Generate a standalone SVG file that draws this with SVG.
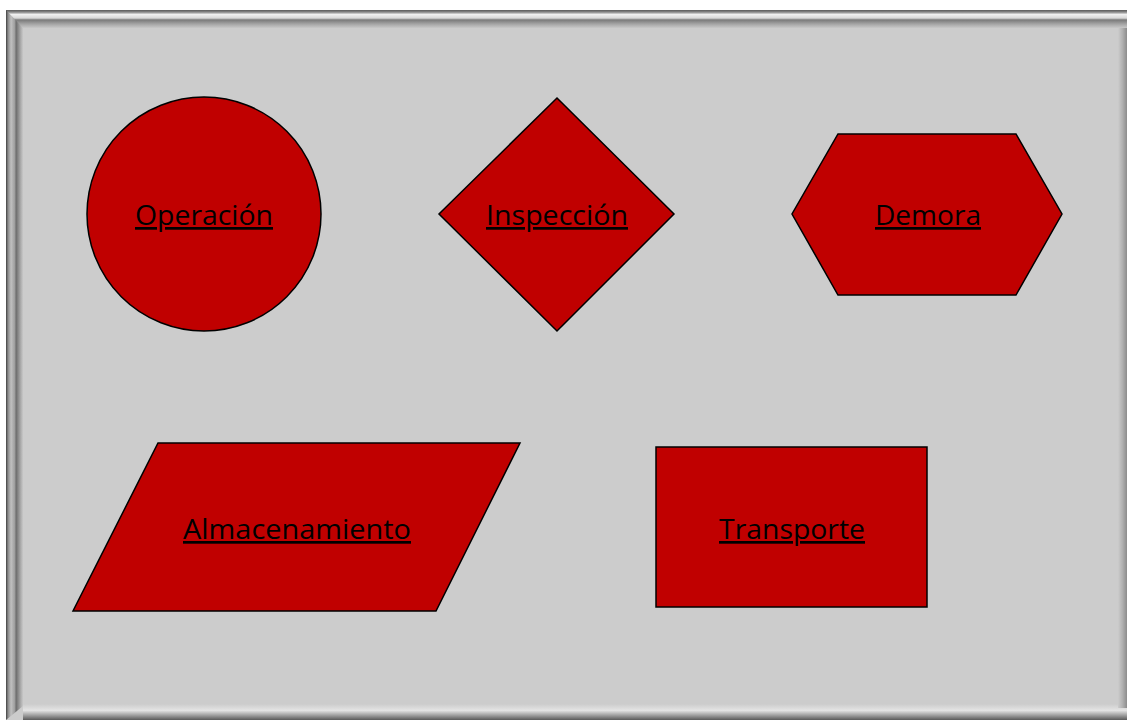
<svg xmlns="http://www.w3.org/2000/svg" width="1127" height="722" viewBox="0 0 1127 722">
  <defs>
    <style>
      .shape { fill: #C00000; stroke: #000000; stroke-width: 1.5; }
      .label { font-family: "Open Sans", "Noto Sans", sans-serif; font-size: 27px; fill: #000000; text-anchor: middle; text-decoration: underline; }
    </style>
    <linearGradient id="bevelTop" x1="0" y1="0" x2="0" y2="1">
      <stop offset="0" stop-color="#5a5a5a"/>
      <stop offset="0.12" stop-color="#8a8a8a"/>
      <stop offset="0.25" stop-color="#f0f0f0"/>
      <stop offset="0.45" stop-color="#d8d8d8"/>
      <stop offset="0.55" stop-color="#7a7a7a"/>
      <stop offset="0.8" stop-color="#a8a8a8"/>
      <stop offset="1" stop-color="#c8c8c8"/>
    </linearGradient>
    <linearGradient id="bevelLeft" x1="0" y1="0" x2="1" y2="0">
      <stop offset="0" stop-color="#404040"/>
      <stop offset="0.12" stop-color="#8a8a8a"/>
      <stop offset="0.3" stop-color="#c0c0c0"/>
      <stop offset="0.5" stop-color="#a0a0a0"/>
      <stop offset="0.6" stop-color="#6e6e6e"/>
      <stop offset="0.85" stop-color="#a8a8a8"/>
      <stop offset="1" stop-color="#c8c8c8"/>
    </linearGradient>
    <linearGradient id="bevelBottom" x1="0" y1="0" x2="0" y2="1">
      <stop offset="0" stop-color="#cccccc"/>
      <stop offset="0.4" stop-color="#e4e4e4"/>
      <stop offset="0.7" stop-color="#a0a0a0"/>
      <stop offset="1" stop-color="#5a5a5a"/>
    </linearGradient>
    <linearGradient id="bevelRight" x1="0" y1="0" x2="1" y2="0">
      <stop offset="0" stop-color="#cccccc"/>
      <stop offset="0.5" stop-color="#b0b0b0"/>
      <stop offset="1" stop-color="#8c8c8c"/>
    </linearGradient>
  </defs>

  <!-- page -->
  <rect x="0" y="0" width="1127" height="722" fill="#ffffff"/>

  <!-- framed panel -->
  <g id="frame">
    <rect x="6" y="10" width="1121" height="710" fill="#cccccc"/>
    <rect x="6" y="10" width="1121" height="18" fill="url(#bevelTop)"/>
    <polygon points="6,10 23,28 23,706 6,720" fill="url(#bevelLeft)"/>
    <rect x="23" y="704" width="1104" height="16" fill="url(#bevelBottom)"/>
    <rect x="1118" y="28" width="9" height="680" fill="url(#bevelRight)"/>
  </g>

  <g id="operacion">
    <circle class="shape" cx="204" cy="214" r="117"/>
    <text class="label" x="204" y="225" textLength="138" lengthAdjust="spacingAndGlyphs">Operación</text>
  </g>

  <g id="inspeccion">
    <polygon class="shape" points="557,98 674,214 557,331 439,214"/>
    <text class="label" x="557" y="225" textLength="142" lengthAdjust="spacingAndGlyphs">Inspección</text>
  </g>

  <g id="demora">
    <polygon class="shape" points="838,134 1016,134 1062,214 1016,295 838,295 792,214"/>
    <text class="label" x="928" y="225" textLength="106" lengthAdjust="spacingAndGlyphs">Demora</text>
  </g>

  <g id="almacenamiento">
    <polygon class="shape" points="158,443 520,443 436,611 73,611"/>
    <text class="label" x="297" y="539" textLength="228" lengthAdjust="spacingAndGlyphs">Almacenamiento</text>
  </g>

  <g id="transporte">
    <rect class="shape" x="656" y="447" width="271" height="160"/>
    <text class="label" x="792" y="539" textLength="146" lengthAdjust="spacingAndGlyphs">Transporte</text>
  </g>

  <g id="connectors"/>
</svg>
